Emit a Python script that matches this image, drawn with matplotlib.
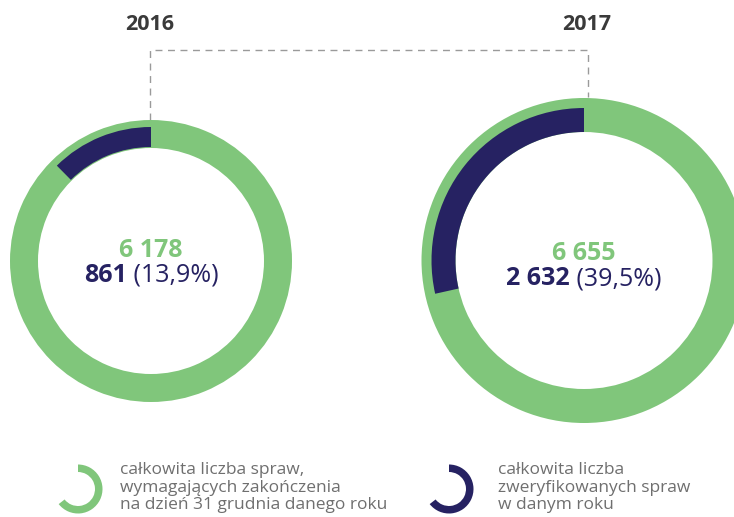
import matplotlib
matplotlib.use("Agg")
import matplotlib.pyplot as plt
from matplotlib.patches import Wedge

# data
years = ["2016", "2017"]
total_cases = [6178, 6655]       # całkowita liczba spraw
verified_cases = [861, 2632]     # zweryfikowane sprawy
# share of the ring covered by the dark arc, as drawn in the original graphic
# (the source artwork does not draw the arcs to scale)
arc_drawn_share = [0.124, 0.285]
legend_labels = [
    "całkowita liczba spraw,\nwymagających zakończenia\nna dzień 31 grudnia danego roku",
    "całkowita liczba\nzweryfikowanych spraw\nw danym roku",
]

GREEN = "#80c67b"
NAVY = "#262262"
GREY = "#6f6f6f"
W, H = 734, 517

plt.rcParams['font.family'] = ['Open Sans', 'DejaVu Sans']

fig = plt.figure(figsize=(W / 100, H / 100), dpi=100)
bg = fig.add_axes([0, 0, 1, 1])
bg.set_xlim(0, W)
bg.set_ylim(H, 0)
bg.axis("off")


def fmt_int(v):
    return f"{v:,}".replace(",", " ")


# ring geometry in pixels: center x, center y, outer r, green width, dark outer r, dark width
rings = [(151, 261, 141, 28, 134, 20), (584, 260.5, 162.5, 34, 152.5, 24)]

for i, (cx, cy, R, gw, dr, dw) in enumerate(rings):
    ax = fig.add_axes([(cx - R) / W, 1 - (cy + R) / H, 2 * R / W, 2 * R / H])
    ax.pie([total_cases[i]], radius=1, colors=[GREEN], startangle=90,
           wedgeprops=dict(width=gw / R, linewidth=0))
    share = arc_drawn_share[i]
    ax.pie([share, 1 - share], radius=dr / R, colors=[NAVY, "none"],
           startangle=90, counterclock=True, normalize=True,
           wedgeprops=dict(width=dw / R, linewidth=0))
    ax.set_xlim(-1, 1)
    ax.set_ylim(-1, 1)
    ax.set_zorder(1)

# year labels
bg.text(150, 30, years[0], ha="center", va="baseline", fontsize=15.5,
        fontweight="bold", color="#3a3a3a")
bg.text(587, 30, years[1], ha="center", va="baseline", fontsize=15.5,
        fontweight="bold", color="#3a3a3a")

# dashed connector
bg.plot([150, 150, 588, 588], [120, 50, 50, 97], color="#9a9a9a", lw=1,
        ls=(0, (5, 4)), zorder=0)

# centre labels
renderer = fig.canvas.get_renderer()
baselines = [(257, 282), (260, 285)]
for i, (cx, cy, R, gw, dr, dw) in enumerate(rings):
    b1, b2 = baselines[i]
    bg.text(cx, b1, fmt_int(total_cases[i]), ha="center", va="baseline",
            fontsize=18, fontweight="bold", color=GREEN, zorder=3)
    pct = verified_cases[i] / total_cases[i] * 100
    pct_s = f" ({pct:.1f}%)".replace(".", ",")
    t1 = bg.text(0, b2, fmt_int(verified_cases[i]), ha="left", va="baseline",
                 fontsize=18, fontweight="bold", color=NAVY, zorder=3)
    t2 = bg.text(0, b2, pct_s, ha="left", va="baseline",
                 fontsize=18, color=NAVY, zorder=3)
    w1 = t1.get_window_extent(renderer).width
    w2 = t2.get_window_extent(renderer).width
    x0 = cx - (w1 + w2) / 2
    t1.set_x(x0)
    t2.set_x(x0 + w1)

# legend
leg_items = [(78, 489, GREEN, 120, legend_labels[0]),
             (449, 489, NAVY, 498, legend_labels[1])]
for (ix, iy, col, tx, lab) in leg_items:
    # y axis points down here, so this arc runs clockwise from the top on screen
    bg.add_patch(Wedge((ix, iy), 24.5, -90, 142, width=7.5, color=col, lw=0))
    bg.text(tx, 462, lab, ha="left", va="top", fontsize=12.5, color=GREY,
            linespacing=1.13)

fig.savefig("out.png", dpi=100)
